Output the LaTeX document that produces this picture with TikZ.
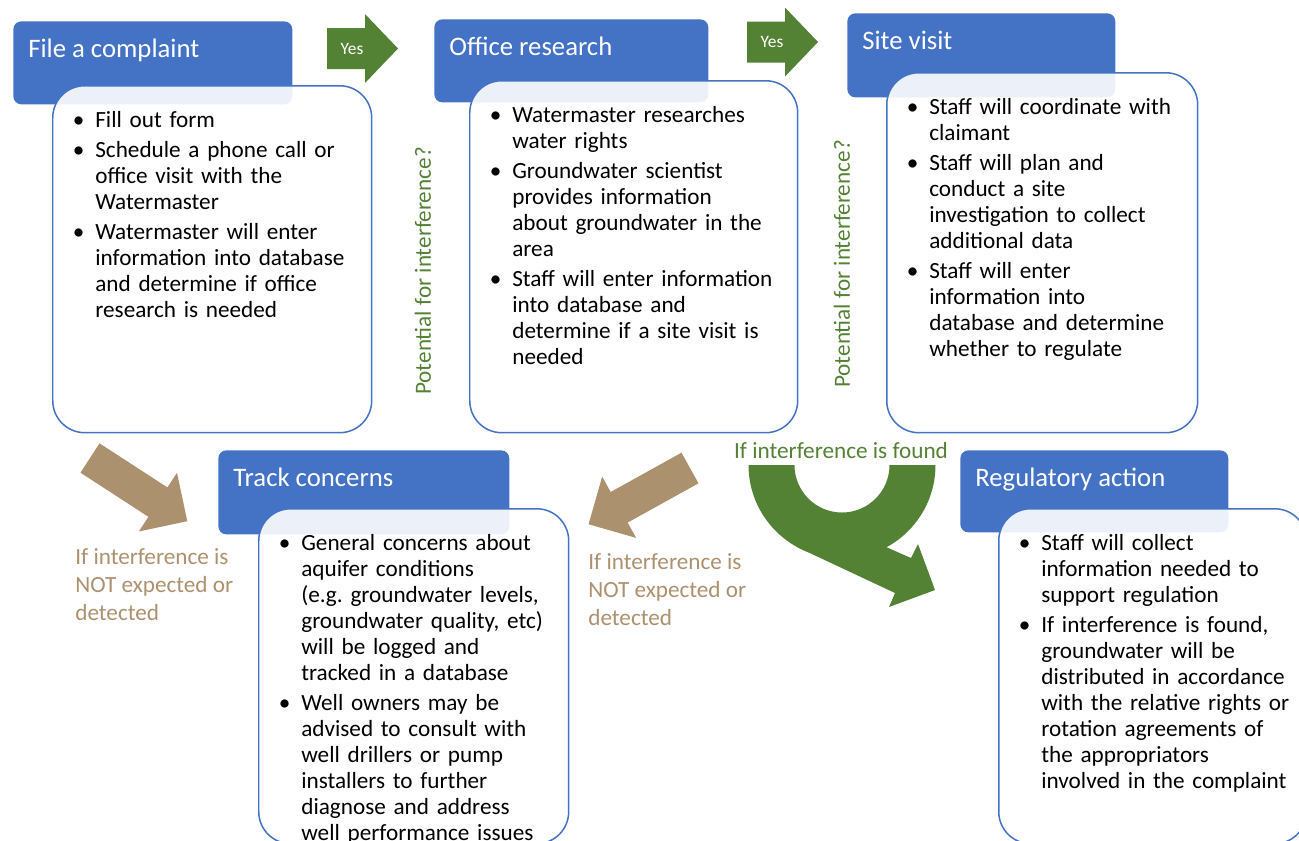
\documentclass[tikz,border=0pt]{standalone}
\usepackage{fontspec}
\setmainfont{Carlito}
\usepackage{enumitem}
\usetikzlibrary{positioning}

\definecolor{boxblue}{RGB}{68,114,196}
\definecolor{yesgreen}{RGB}{84,130,53}
\definecolor{notan}{RGB}{172,145,110}

\newcommand{\bodyfont}{\fontsize{13.2pt}{14.8pt}\selectfont}
\newlist{steps}{itemize}{1}
\setlist[steps]{label=\textbullet,leftmargin=0.3cm,labelsep=0.22cm,itemsep=2.3pt,topsep=0pt,parsep=0pt,partopsep=0pt}

\begin{document}
\begin{tikzpicture}[x=0.02cm,y=0.02cm,
	title box/.style={rectangle,fill=boxblue,rounded corners=0.16cm,anchor=north west,inner sep=0},
	body box/.style={rectangle,draw=boxblue,line width=0.85pt,fill=white,fill opacity=0.9,rounded corners=0.64cm,anchor=north west,inner sep=0},
	title text/.style={text=white,font=\fontsize{15.2pt}{18pt}\selectfont,anchor=base west,inner sep=0},
	body text/.style={font=\bodyfont,text width=5.9cm,align=left,inner sep=0,anchor=north west},
	side note/.style={font=\bodyfont,text=yesgreen,rotate=90,inner sep=0},
	not note/.style={font=\fontsize{13.2pt}{15.9pt}\selectfont,text=notan,align=left,inner sep=0,anchor=north west},
	yesarrow/.pic={\fill[yesgreen] (0,20.5) -- (38,20.5) -- (38,34.5) -- (71,0) -- (38,-34.5) -- (38,-20.5) -- (0,-20.5) -- cycle;
		\node[text=white,font=\fontsize{9.9pt}{12pt}\selectfont] at (25,0) {Yes};},
	notarrow/.pic={\fill[notan] (0,17.5) -- (81,17.5) -- (81,35) -- (116,0) -- (81,-35) -- (81,-17.5) -- (0,-17.5) -- cycle;}]

	\useasboundingbox (0,0) rectangle (1299,-840);
	\clip (0,0) rectangle (1299,-840);

	% title boxes
	\node[title box,minimum width=5.58cm,minimum height=1.66cm] (t1) at (13,-21) {};
	\node[title box,minimum width=5.48cm,minimum height=1.66cm] (t2) at (434,-19) {};
	\node[title box,minimum width=5.36cm,minimum height=1.68cm] (t3) at (847,-13) {};
	\node[title box,minimum width=5.82cm,minimum height=1.68cm] (t4) at (218,-450) {};
	\node[title box,minimum width=5.36cm,minimum height=1.64cm] (t5) at (960,-450) {};

	\node[below right=0.72cm and 0.3cm of t1.north west,title text] {File a complaint};
	\node[below right=0.72cm and 0.3cm of t2.north west,title text] {Office research};
	\node[below right=0.72cm and 0.3cm of t3.north west,title text] {Site visit};
	\node[below right=0.72cm and 0.3cm of t4.north west,title text] {Track concerns};
	\node[below right=0.72cm and 0.3cm of t5.north west,title text] {Regulatory action};

	% body boxes
	\node[body box,minimum width=6.38cm,minimum height=6.94cm] (b1) at (52,-85) {};
	\node[body box,minimum width=6.56cm,minimum height=7.04cm] (b2) at (469,-80) {};
	\node[body box,minimum width=6.22cm,minimum height=7.2cm] (b3) at (886,-72) {};
	\node[body box,minimum width=6.2cm,minimum height=6.7cm] (b4) at (258,-508) {};
	\node[body box,minimum width=6.16cm,minimum height=6.7cm] (b5) at (998,-508) {};

	\node[below right=0.33cm and 0.56cm of b1.north west,body text] (l1) {\begin{steps}
		\item Fill out form
		\item Schedule a phone call or\\ office visit with the\\ Watermaster
		\item Watermaster will enter\\ information into database\\ and determine if office\\ research is needed
	\end{steps}};
	\node[below right=0.33cm and 0.56cm of b2.north west,body text] (l2) {\begin{steps}
		\item Watermaster researches\\ water rights
		\item Groundwater scientist\\ provides information\\ about groundwater in the\\ area
		\item Staff will enter information\\ into database and\\ determine if a site visit is\\ needed
	\end{steps}};
	\node[below right=0.33cm and 0.56cm of b3.north west,body text] (l3) {\begin{steps}
		\item Staff will coordinate with\\ claimant
		\item Staff will plan and\\ conduct a site\\ investigation to collect\\ additional data
		\item Staff will enter\\ information into\\ database and determine\\ whether to regulate
	\end{steps}};
	\node[below right=0.33cm and 0.56cm of b4.north west,body text] (l4) {\begin{steps}
		\item General concerns about\\ aquifer conditions\\ (e.g.\ groundwater levels,\\ groundwater quality, etc)\\ will be logged and\\ tracked in a database
		\item Well owners may be\\ advised to consult with\\ well drillers or pump\\ installers to further\\ diagnose and address\\ well performance issues
	\end{steps}};
	\node[below right=0.33cm and 0.56cm of b5.north west,body text] (l5) {\begin{steps}
		\item Staff will collect\\ information needed to\\ support regulation
		\item If interference is found,\\ groundwater will be\\ distributed in accordance\\ with the relative rights or\\ rotation agreements of\\ the appropriators\\ involved in the complaint
	\end{steps}};

	% yes arrows
	\pic at (327,-48.5) {yesarrow};
	\pic at (747,-42) {yesarrow};

	\node[side note] (p1) at (423,-271) {Potential for interference?};
	\node[side note] (p2) at (842,-264) {Potential for interference?};

	% not expected arrows
	\pic[rotate=-33] at (90,-458) {notarrow};
	\pic[rotate=209] at (690,-468) {notarrow};
	\node[not note] (n1) at (75,-548) {If interference is\\NOT expected or\\detected};
	\node[not note] (n2) at (588,-553) {If interference is\\NOT expected or\\detected};

	% found arrow
	\fill[yesgreen] (748.5,-465) arc[start angle=180,end angle=360,radius=93.5] -- (889.5,-465)
		arc[start angle=0,end angle=-180,radius=47.5] -- cycle;
	\fill[yesgreen] (797,-547) -- (895,-593) -- (889,-607) -- (935,-590) -- (918,-544) -- (911,-558)
		-- (886,-547) -- (842,-520) -- cycle;
	\node[font=\bodyfont,text=yesgreen] (found) at (841,-451) {If interference is found};
\end{tikzpicture}
\end{document}
